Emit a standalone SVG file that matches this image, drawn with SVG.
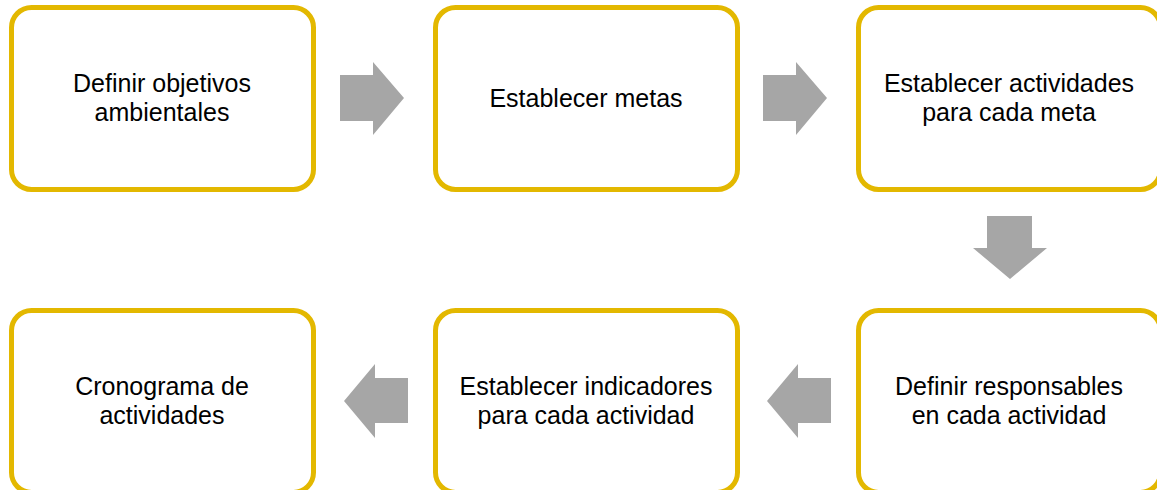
<svg xmlns="http://www.w3.org/2000/svg" width="1157" height="490" viewBox="0 0 1157 490">
<style>
.box{fill:#fff;stroke:#E3B800;stroke-width:5}
.arr{fill:#A6A6A6}
text{font-family:"Liberation Sans",Arial,sans-serif;font-size:25px;fill:#000;text-anchor:middle}
</style>
<rect width="1157" height="490" fill="#fff"/>
<g id="connectors">
<polygon class="arr" points="340,75 373,75 373,62 404,98 373,135 373,121 340,121"/>
<polygon class="arr" points="763,75 796,75 796,62 827,98 796,135 796,121 763,121"/>
<polygon class="arr" points="987,216 1032,216 1032,248 1047,248 1010,279 973,248 987,248"/>
<polygon class="arr" points="408,378 375,378 375,364 344,401 375,438 375,423 408,423"/>
<polygon class="arr" points="831,378 798,378 798,364 767,401 798,438 798,423 831,423"/>
</g>
<g id="n1"><rect class="box" x="11.5" y="7.5" width="302" height="182" rx="20"/><text x="162" y="92">Definir objetivos<tspan x="162" dy="28.5">ambientales</tspan></text></g>
<g id="n2"><rect class="box" x="435.5" y="7.5" width="302" height="182" rx="20"/><text x="586" y="107">Establecer metas</text></g>
<g id="n3"><rect class="box" x="858.5" y="7.5" width="302" height="182" rx="20"/><text x="1009" y="92">Establecer actividades<tspan x="1009" dy="28.5">para cada meta</tspan></text></g>
<g id="n6"><rect class="box" x="858.5" y="310.5" width="302" height="182" rx="20"/><text x="1009" y="395">Definir responsables<tspan x="1009" dy="28.5">en cada actividad</tspan></text></g>
<g id="n5"><rect class="box" x="435.5" y="310.5" width="302" height="182" rx="20"/><text x="586" y="395">Establecer indicadores<tspan x="586" dy="28.5">para cada actividad</tspan></text></g>
<g id="n4"><rect class="box" x="11.5" y="310.5" width="302" height="182" rx="20"/><text x="162" y="395">Cronograma de<tspan x="162" dy="28.5">actividades</tspan></text></g>
</svg>
